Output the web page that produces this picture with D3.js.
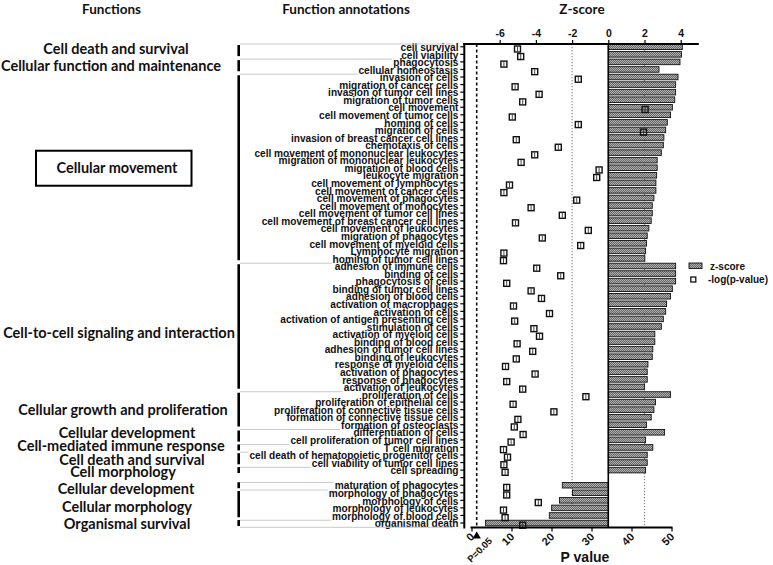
<!DOCTYPE html>
<html><head><meta charset="utf-8">
<script src="https://cdn.jsdelivr.net/npm/d3@7"></script>
<style>body{margin:0;background:#fff}</style>
</head><body>
<svg id="c" width="773" height="565" xmlns="http://www.w3.org/2000/svg"></svg>
<script>
// ---------------- DATA ----------------
const rowNames = [
  "cell survival","cell viability","phagocytosis","cellular homeostasis",
  "invasion of cells","migration of cancer cells","invasion of tumor cell lines","migration of tumor cells",
  "cell movement","cell movement of tumor cells","homing of cells","migration of cells",
  "invasion of breast cancer cell lines","chemotaxis of cells","cell movement of mononuclear leukocytes",
  "migration of mononuclear leukocytes","migration of blood cells","leukocyte migration",
  "cell movement of lymphocytes","cell movement of cancer cells","cell movement of phagocytes",
  "cell movement of monocytes","cell movement of tumor cell lines","cell movement of breast cancer cell lines",
  "cell movement of leukocytes","migration of phagocytes","cell movement of myeloid cells",
  "Lymphocyte migration","homing of tumor cell lines",
  "adhesion of immune cells","binding of cells","phagocytosis of cells","binding of tumor cell lines",
  "adhesion of blood cells","activation of macrophages","activation of cells",
  "activation of antigen presenting cells","stimulation of cells","activation of myeloid cells",
  "binding of blood cells","adhesion of tumor cell lines","binding of leukocytes",
  "response of myeloid cells","activation of phagocytes","response of phagocytes","activation of leukocytes",
  "proliferation of cells","proliferation of epithelial cells","proliferation of connective tissue cells",
  "formation of connective tissue cells","formation of osteoclasts",
  "differentiation of cells","cell proliferation of tumor cell lines",
  "T cell migration",
  "cell death of hematopoietic progenitor cells","cell viability of tumor cell lines",
  "cell spreading","",
  "maturation of phagocytes",
  "morphology of phagocytes","morphology of cells","morphology of leukocytes","morphology of blood cells",
  "organismal death"
];
const zScores = [
  4.09,4.04,3.96,2.80,
  3.85,3.72,3.72,3.67,3.54,3.44,3.26,3.17,3.07,3.04,2.93,
  2.70,2.70,2.67,2.63,2.63,2.52,2.43,2.43,2.37,2.24,2.15,2.11,2.06,2.02,
  3.72,3.72,3.72,3.54,3.44,3.22,3.17,3.04,2.93,2.57,2.57,2.46,2.43,2.19,2.15,2.15,2.00,
  3.44,2.61,2.52,2.37,2.11,
  3.11,2.06,
  2.46,
  2.15,2.15,
  2.06,null,
  -2.54,
  -1.98,-2.70,-3.13,-3.26,
  -6.78
];
const negLogP = [
  11.5,12.3,8.1,15.8,
  26.7,10.9,16.9,12.8,43.4,10.2,26.7,43.0,11.2,21.7,15.8,
  12.4,31.9,31.3,9.5,8.1,26.3,14.9,22.7,11.0,29.2,17.7,27.3,8.1,8.0,
  16.3,22.3,8.8,14.9,17.5,10.5,19.5,10.8,15.6,17.0,11.4,15.3,11.2,8.5,15.9,8.8,12.8,
  28.6,10.4,20.6,11.6,10.7,
  12.9,9.9,
  8.0,
  9.0,8.1,
  8.4,null,
  8.8,
  8.8,16.7,8.0,8.4,
  12.8
];
const groupNames = [
  "Cell death and survival","Cellular function and maintenance","Cellular movement",
  "Cell-to-cell signaling and interaction","Cellular growth and proliferation","Cellular development",
  "Cell-mediated immune response","Cell death and survival","Cell morphology","Cellular development",
  "Cellular morphology","Organismal survival"
];
const groupRowCounts = [2,2,25,17,5,2,1,2,2,1,4,1];
const zTicks = [-6,-4,-2,0,2,4];
const pTicks = [0,10,20,30,40,50];
const pThreshold = 1.3;   // -log10(0.05)
const zRefLines = [-2,2];

// ---------------- LAYOUT ----------------
const groupLabelX  = [116,111,117,119,123,127,121,132,123,126,127,127];
const groupLabelDy = [-1.5,0.5,0,6.5,0.4,-2.7,-1.3,1.4,-1.9,3.3,2.9,1.3];
const LABEL_SCALE = 0.88;

const svg = d3.select("#c");
const defs = svg.append("defs");
const pat = defs.append("pattern").attr("id","dots").attr("width",2).attr("height",2)
  .attr("patternUnits","userSpaceOnUse");
pat.append("rect").attr("width",2).attr("height",2).attr("fill","#666");
pat.append("rect").attr("x",0).attr("y",0).attr("width",1).attr("height",1).attr("fill","#b0b0b0");
pat.append("rect").attr("x",1).attr("y",1).attr("width",1).attr("height",1).attr("fill","#b0b0b0");

const idx = d3.range(rowNames.length);
const y = d3.scaleBand().domain(idx).range([43.0, 526.8]);
const z = d3.scaleLinear().domain([-8,5]).range([463.5, 698.8]);
const p = d3.scaleLinear().domain([0,50]).range([471.5, 671.5]);
const plotTop = 44, plotBottom = 527.5;
const bw = y.bandwidth();
const cy = i => y(i) + bw/2;

// headers
const hdr = svg.append("g").attr("font-family","Lato, 'Open Sans', sans-serif").attr("font-weight","bold")
  .attr("font-size",13.5).attr("text-anchor","middle").attr("fill","#111");
hdr.append("text").attr("x",111.5).attr("y",13.5).text("Functions");
hdr.append("text").attr("x",346).attr("y",13.5).text("Function annotations");
hdr.append("text").attr("x",582).attr("y",13.5).text("Z-score");

// groups
let start = 0;
const groups = groupRowCounts.map((n,k) => {
  const rows = d3.range(start, start+n);
  start += n;
  return {k, name: groupNames[k], rows};
});

// row labels
const lg = svg.append("g").attr("transform",`translate(458.5,0) scale(${LABEL_SCALE},1)`)
  .attr("font-family","'Liberation Sans', Arial, sans-serif").attr("font-weight","bold")
  .attr("font-size",11.5).attr("fill","#111").attr("text-anchor","end");
const labelNodes = lg.selectAll("text").data(idx.filter(i => rowNames[i] !== "")).join("text")
  .attr("x",0).attr("y",i => cy(i)+4.2).text(i => rowNames[i]);
const textStart = {};
labelNodes.each(function(i){ textStart[i] = 458.5 - this.getComputedTextLength()*LABEL_SCALE; });
const startOf = i => (textStart[i] !== undefined ? textStart[i] : 458);

// separator lines and brackets
const sep = svg.append("g").attr("stroke","#c8c8c8").attr("stroke-width",1);
groups.forEach((g,gi) => {
  const r0 = g.rows[0], r1 = g.rows[g.rows.length-1];
  const yTop = y(r0) + 1;
  let xe;
  if (gi === 0) xe = 453; else xe = Math.min(startOf(r0), startOf(r0-1)) - 1;
  sep.append("line").attr("x1",240).attr("x2",xe).attr("y1",yTop).attr("y2",yTop);
  if (gi === groups.length-1) {
    const yb = y(r1)+bw+0.5;
    sep.append("line").attr("x1",240).attr("x2",453).attr("y1",yb).attr("y2",yb);
  }
  const named = g.rows.filter(i => rowNames[i] !== "");
  const a = named[0], b = named[named.length-1];
  const inset = named.length > 1 ? 2 : 0.8;
  svg.append("line").attr("x1",238.7).attr("x2",238.7)
    .attr("y1", y(a)+inset).attr("y2", y(b)+bw-inset)
    .attr("stroke","#000").attr("stroke-width",2.6);
  const gc = (y(r0) + y(r1) + bw)/2 + groupLabelDy[gi];
  svg.append("text").attr("x",groupLabelX[gi]).attr("y",gc+5)
    .attr("text-anchor","middle").attr("font-family","Lato, 'Open Sans', sans-serif")
    .attr("font-weight","bold").attr("font-size",14.5).attr("fill","#111").text(g.name);
});
{
  const g = groups[2];
  const gc = (y(g.rows[0]) + y(g.rows[g.rows.length-1]) + bw)/2;
  svg.append("rect").attr("x",36).attr("y",gc-17).attr("width",155.5).attr("height",35)
    .attr("fill","none").attr("stroke","#000").attr("stroke-width",2);
}

// reference lines
const rl = svg.append("g");
rl.selectAll("line.ref").data(zRefLines).join("line").attr("class","ref")
  .attr("x1",d=>z(d)).attr("x2",d=>z(d)).attr("y1",plotTop).attr("y2",plotBottom)
  .attr("stroke","#8a8a8a").attr("stroke-width",1.2).attr("stroke-dasharray","1.3,1.7");
rl.append("line").attr("x1",p(pThreshold)).attr("x2",p(pThreshold)).attr("y1",plotTop).attr("y2",plotBottom)
  .attr("stroke","#111").attr("stroke-width",1.6).attr("stroke-dasharray","3,2.5");

// bars
const barIdx = idx.filter(i => zScores[i] !== null);
svg.append("g").selectAll("rect").data(barIdx).join("rect")
  .attr("x", i => Math.min(z(0), z(zScores[i])))
  .attr("width", i => Math.abs(z(zScores[i]) - z(0)))
  .attr("y", i => y(i)+1.0).attr("height", bw-2.0)
  .attr("fill","url(#dots)").attr("stroke","#111").attr("stroke-width",0.9);

svg.append("line").attr("x1",z(0)).attr("x2",z(0)).attr("y1",plotTop).attr("y2",plotBottom)
  .attr("stroke","#000").attr("stroke-width",1.6);

// squares
const sqIdx = idx.filter(i => negLogP[i] !== null);
const sq = svg.append("g").selectAll("g").data(sqIdx).join("g")
  .attr("transform", i => `translate(${p(negLogP[i])},${cy(i)+2.2})`);
sq.append("rect").attr("x",-3).attr("y",-3).attr("width",6).attr("height",6)
  .attr("fill","none").attr("stroke","#111").attr("stroke-width",1.4);
sq.append("line").attr("x1",0).attr("x2",0).attr("y1",-2.5).attr("y2",2.5)
  .attr("stroke","#333").attr("stroke-width",0.9);

// left axis
const leftAx = svg.append("g").attr("transform","translate(464.3,0)");
leftAx.append("line").attr("x1",0).attr("x2",0).attr("y1",plotTop-1).attr("y2",plotBottom+1)
  .attr("stroke","#000").attr("stroke-width",2);
leftAx.selectAll("line.t").data(idx).join("line").attr("class","t")
  .attr("x1",-4).attr("x2",0).attr("y1",i=>cy(i)).attr("y2",i=>cy(i))
  .attr("stroke","#000").attr("stroke-width",1.2);

// top z axis
const topAxis = d3.axisTop(z).tickValues(zTicks).tickSize(4).tickPadding(3).tickFormat(d3.format("d"));
const ta = svg.append("g").attr("transform",`translate(0,${plotTop})`).call(topAxis);
ta.select(".domain").remove();
ta.append("line").attr("x1",463.3).attr("x2",698.8).attr("y1",0).attr("y2",0)
  .attr("stroke","#000").attr("stroke-width",2);
ta.selectAll(".tick line").attr("stroke","#000").attr("stroke-width",1.2);
ta.selectAll(".tick text").attr("font-family","'Liberation Sans', Arial, sans-serif")
  .attr("font-weight","bold").attr("font-size",10.5).attr("fill","#111")
  .text(d => d < 0 ? "-" + Math.abs(d) : d);

// bottom p axis
const botAxis = d3.axisBottom(p).tickValues(pTicks).tickSize(4).tickFormat(d3.format("d"));
const ba = svg.append("g").attr("transform",`translate(0,${plotBottom})`).call(botAxis);
ba.select(".domain").remove();
ba.append("line").attr("x1",p(0)-1).attr("x2",p(50)+1).attr("y1",0).attr("y2",0)
  .attr("stroke","#000").attr("stroke-width",2);
ba.selectAll(".tick line").attr("stroke","#000").attr("stroke-width",1.2);
ba.selectAll(".tick text").attr("font-family","'Liberation Sans', Arial, sans-serif")
  .attr("font-weight","bold").attr("font-size",11).attr("fill","#111")
  .attr("text-anchor","end").attr("dy",null).attr("y",0)
  .attr("transform","translate(3,10) rotate(-45)");

// threshold marker
const tx = p(pThreshold);
svg.append("path").attr("d",`M${tx},${plotBottom+4} L${tx-4.2},${plotBottom+11} L${tx+4.2},${plotBottom+11} Z`).attr("fill","#000");
svg.append("text").attr("transform",`translate(${tx+16},${plotBottom+14}) rotate(-45)`)
  .attr("text-anchor","end").attr("font-family","'Liberation Sans', Arial, sans-serif")
  .attr("font-weight","bold").attr("font-size",9.5).attr("fill","#111").text("P=0.05");

svg.append("text").attr("x",585).attr("y",562).attr("text-anchor","middle")
  .attr("font-family","'Liberation Sans', Arial, sans-serif").attr("font-weight","bold")
  .attr("font-size",14).attr("fill","#111").text("P value");

// legend
const lgd = svg.append("g").attr("font-family","'Liberation Sans', Arial, sans-serif")
  .attr("font-weight","bold").attr("font-size",10).attr("fill","#111");
lgd.append("rect").attr("x",689).attr("y",263).attr("width",13).attr("height",5.5)
  .attr("fill","url(#dots)").attr("stroke","#111").attr("stroke-width",0.9);
lgd.append("text").attr("x",710).attr("y",269.5).text("z-score");
lgd.append("rect").attr("x",690.8).attr("y",277).attr("width",5).attr("height",5)
  .attr("fill","none").attr("stroke","#111").attr("stroke-width",1.3);
lgd.append("text").attr("x",708).attr("y",283).text("-log(p-value)");
</script>
</body></html>
